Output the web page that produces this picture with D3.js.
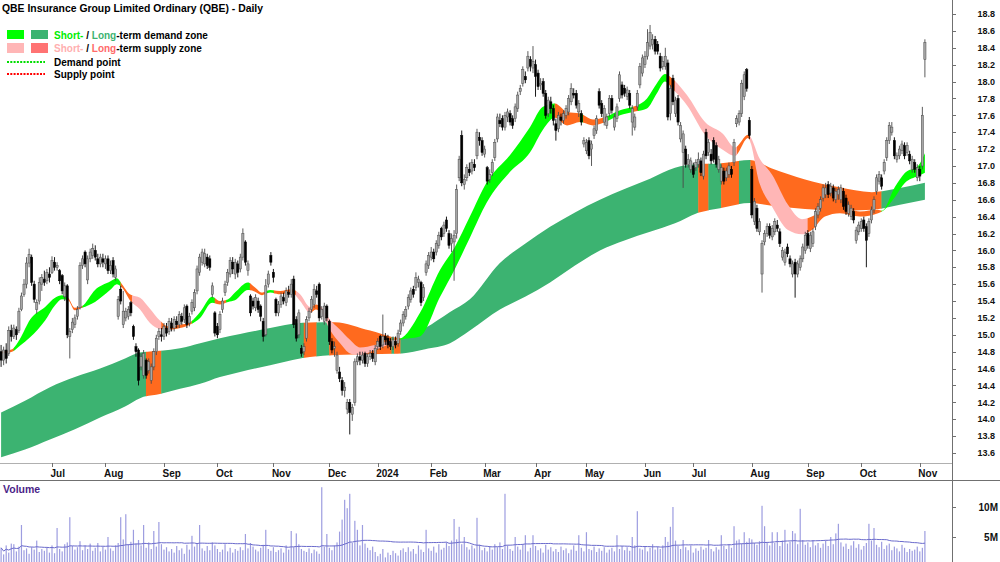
<!DOCTYPE html>
<html><head><meta charset="utf-8">
<script src="https://cdn.jsdelivr.net/npm/d3@7"></script>
<style>body{margin:0;background:#fff}svg{display:block}text{font-family:"Liberation Sans",Arial,sans-serif}</style>
</head><body><svg id="c" width="1000" height="562"></svg>
<script>
// ---------- DATA ----------
const opens=[
14.80,14.70,14.82,14.78,15.05,14.98,15.06,15.05,15.30,15.48,
15.60,15.85,15.92,15.60,15.30,15.40,15.60,15.66,15.64,15.72,
15.74,15.86,15.80,15.76,15.70,15.45,15.58,14.98,15.06,15.12,
15.22,15.32,15.82,15.98,15.65,15.90,15.94,16.00,15.90,15.84,
15.90,15.84,15.90,15.76,15.88,15.68,15.22,15.54,15.12,15.20,
15.22,15.38,15.10,14.86,14.82,14.62,14.52,14.70,14.58,14.46,
14.62,14.80,14.98,15.00,14.98,15.08,15.04,15.14,15.08,15.16,
15.12,15.22,15.18,15.34,15.14,15.28,15.32,15.52,15.74,15.86,
15.84,15.92,15.90,15.48,15.26,15.10,15.06,15.30,15.50,15.62,
15.72,15.86,15.72,15.84,15.78,15.92,16.10,15.76,15.46,15.40,
15.32,15.40,15.34,15.16,15.00,15.60,15.94,15.74,15.42,15.26,
15.36,15.44,15.38,15.50,15.48,15.66,15.18,15.00,14.84,14.80,
14.96,15.20,15.30,15.36,15.52,15.60,15.22,15.16,15.34,15.16,
14.92,14.84,14.58,14.56,14.46,14.34,14.12,14.20,14.06,14.20,
14.68,14.74,14.70,14.78,14.66,14.74,14.78,14.68,14.86,14.98,
14.88,14.98,14.96,14.92,14.86,14.92,14.90,15.04,15.14,15.22,
15.34,15.42,15.54,15.56,15.62,15.62,15.44,15.74,15.82,15.92,
15.98,15.98,16.06,16.26,16.20,16.36,16.20,16.08,16.10,16.20,
16.86,17.36,16.78,16.86,16.96,16.94,17.02,17.12,17.34,17.30,
17.14,16.98,16.84,16.92,17.10,17.32,17.54,17.56,17.46,17.58,
17.62,17.56,17.56,17.68,17.88,17.98,18.06,18.16,18.26,18.16,
18.20,18.10,17.96,18.00,17.86,17.62,17.76,17.68,17.50,17.44,
17.58,17.54,17.60,17.64,17.76,17.86,17.86,17.64,17.62,17.26,
17.18,17.30,17.20,17.36,17.42,17.88,17.74,17.52,17.48,17.62,
17.80,17.46,17.56,17.80,17.96,17.92,17.82,17.86,17.52,17.46,
17.70,17.96,18.10,18.20,18.30,18.42,18.44,18.50,18.44,18.30,
18.18,18.18,18.22,17.62,18.04,17.62,17.80,17.32,17.16,17.20,
17.02,16.96,17.00,16.98,17.02,17.06,16.88,17.40,17.16,17.14,
17.30,17.24,16.96,16.82,16.94,16.86,16.90,16.96,17.04,17.50,
17.52,17.62,17.82,18.14,17.54,16.96,16.34,16.50,16.22,15.72,
16.10,16.20,16.28,16.16,16.22,16.30,16.22,15.92,15.86,16.04,
15.90,15.72,15.86,15.72,15.80,15.90,16.00,16.20,16.02,16.08,
16.28,16.42,16.50,16.62,16.66,16.78,16.68,16.74,16.60,16.66,
16.60,16.70,16.62,16.44,16.40,16.46,16.12,16.22,16.26,16.36,
16.28,16.20,16.36,16.48,16.70,16.82,16.86,16.94,17.10,17.30,
17.40,17.30,17.08,17.12,17.18,17.24,17.16,17.14,16.96,17.04,
16.86,16.96,17.00,18.26];
const closes=[
14.70,14.82,14.72,15.05,14.98,15.08,15.00,15.28,15.46,15.60,
15.85,15.95,15.62,15.42,15.38,15.62,15.68,15.62,15.74,15.68,
15.88,15.80,15.82,15.64,15.52,15.58,15.00,15.04,15.15,15.20,
15.30,15.82,15.90,15.84,15.90,15.98,16.02,15.92,15.84,15.92,
15.86,15.90,15.76,15.82,15.72,15.78,15.42,15.40,15.28,15.28,
15.30,15.26,14.98,14.80,14.46,14.74,14.78,14.52,14.68,14.62,
14.80,14.96,15.04,14.98,15.10,15.02,15.16,15.08,15.18,15.12,
15.24,15.16,15.32,15.12,15.22,15.38,15.50,15.78,15.92,15.98,
15.96,15.82,15.80,15.58,15.02,15.00,15.24,15.40,15.60,15.74,
15.88,15.78,15.86,15.74,15.92,16.20,15.86,15.84,15.26,15.34,
15.44,15.30,15.22,14.98,15.58,15.72,15.86,15.68,15.26,15.36,
15.46,15.40,15.52,15.48,15.60,15.12,14.96,15.26,14.78,14.86,
15.18,15.28,15.42,15.54,15.48,15.20,15.30,15.34,15.20,14.92,
14.82,14.86,14.76,14.48,14.34,14.38,14.20,14.08,14.14,14.68,
14.74,14.70,14.76,14.66,14.74,14.78,14.72,14.84,14.92,14.86,
14.98,14.94,14.88,14.86,14.94,14.88,15.02,15.14,15.24,15.30,
15.44,15.52,15.48,15.68,15.66,15.38,15.56,15.84,15.94,15.98,
15.90,16.08,16.18,16.16,16.30,16.26,16.06,16.14,16.18,16.72,
17.08,16.80,16.84,16.98,16.92,17.04,16.98,17.40,17.30,17.16,
17.20,16.82,16.90,17.04,17.28,17.58,17.50,17.46,17.60,17.64,
17.52,17.48,17.70,17.84,17.92,18.14,18.02,18.30,18.18,18.24,
18.06,17.94,17.98,17.86,17.60,17.78,17.68,17.54,17.42,17.60,
17.54,17.62,17.68,17.80,17.92,17.84,17.72,17.74,17.52,17.30,
17.28,17.12,17.26,17.44,17.56,17.72,17.62,17.68,17.58,17.80,
17.66,17.58,17.70,18.08,17.84,17.86,17.90,17.72,17.68,17.58,
17.86,18.18,18.28,18.30,18.46,18.58,18.50,18.36,18.36,18.16,
18.24,18.30,17.58,17.92,17.76,17.78,17.52,17.48,17.38,17.02,
17.08,17.06,16.90,17.04,17.08,16.92,17.14,17.12,17.28,17.06,
17.08,17.02,17.08,16.98,16.82,16.94,17.00,16.90,17.28,17.56,
17.62,17.98,18.08,17.92,17.36,16.42,16.58,16.26,16.34,16.08,
16.20,16.28,16.18,16.26,16.34,16.26,16.08,16.00,15.98,15.96,
15.84,15.84,15.72,15.84,15.90,16.04,16.18,16.06,16.18,16.22,
16.46,16.52,16.60,16.74,16.74,16.66,16.76,16.62,16.70,16.72,
16.74,16.52,16.46,16.54,16.50,16.36,16.24,16.30,16.34,16.26,
16.12,16.34,16.48,16.60,16.86,16.90,16.76,17.04,17.30,17.48,
17.46,17.12,17.12,17.20,17.26,17.12,17.24,17.06,17.08,16.96,
16.98,16.88,17.60,18.46];
const highs=[
14.88,14.86,14.90,15.10,15.12,15.12,15.10,15.32,15.50,15.66,
15.92,16.02,15.95,15.64,15.42,15.68,15.72,15.76,15.78,15.80,
15.93,15.92,15.86,15.78,15.72,15.62,15.60,15.08,15.20,15.24,
15.34,15.86,15.94,16.00,15.94,16.02,16.08,16.06,15.96,15.96,
15.96,15.94,15.94,15.88,15.92,15.82,15.46,15.58,15.52,15.32,
15.34,15.40,15.12,14.90,14.84,14.78,14.82,14.72,14.72,14.66,
14.84,15.00,15.08,15.08,15.14,15.14,15.20,15.20,15.22,15.22,
15.28,15.26,15.36,15.36,15.26,15.42,15.54,15.82,15.96,16.02,
16.02,15.96,15.94,15.62,15.28,15.14,15.28,15.44,15.64,15.78,
15.92,15.92,15.90,15.88,15.96,16.26,16.12,15.88,15.48,15.44,
15.48,15.44,15.36,15.20,15.66,15.76,15.98,15.78,15.44,15.40,
15.50,15.50,15.56,15.58,15.66,15.70,15.22,15.30,14.88,14.90,
15.22,15.32,15.46,15.60,15.58,15.62,15.34,15.38,15.36,15.18,
14.96,14.92,14.80,14.62,14.50,14.44,14.24,14.24,14.18,14.72,
14.78,14.80,14.80,14.80,14.78,14.82,14.82,14.88,14.96,15.00,
15.24,15.02,15.00,14.96,14.98,14.98,15.06,15.18,15.28,15.34,
15.48,15.56,15.58,15.74,15.70,15.64,15.60,15.88,15.98,16.04,
16.02,16.12,16.22,16.28,16.34,16.40,16.24,16.20,16.24,16.78,
17.12,17.42,16.90,17.02,17.04,17.08,17.08,17.44,17.40,17.34,
17.24,17.00,16.96,17.08,17.32,17.62,17.62,17.60,17.64,17.68,
17.66,17.60,17.74,17.88,17.96,18.18,18.12,18.36,18.30,18.42,
18.26,18.14,18.04,18.04,17.90,17.82,17.82,17.72,17.56,17.64,
17.62,17.66,17.72,17.84,17.98,17.92,17.90,17.78,17.66,17.34,
17.32,17.34,17.30,17.48,17.60,17.92,17.78,17.72,17.62,17.84,
17.84,17.62,17.74,18.12,18.00,17.96,17.94,17.90,17.72,17.62,
17.90,18.22,18.32,18.36,18.62,18.67,18.56,18.54,18.48,18.34,
18.30,18.40,18.26,17.96,18.08,17.82,17.84,17.52,17.42,17.24,
17.14,17.10,17.04,17.08,17.16,17.10,17.18,17.44,17.32,17.20,
17.34,17.28,17.12,17.02,16.98,16.98,17.04,17.00,17.32,17.60,
17.66,18.02,18.12,18.16,17.58,17.00,16.62,16.54,16.38,16.12,
16.24,16.32,16.32,16.30,16.38,16.36,16.26,16.04,16.02,16.08,
15.94,15.88,15.90,15.88,15.94,16.08,16.22,16.24,16.22,16.26,
16.50,16.56,16.64,16.78,16.80,16.82,16.80,16.78,16.74,16.76,
16.78,16.74,16.66,16.58,16.54,16.50,16.28,16.34,16.38,16.40,
16.32,16.38,16.52,16.64,16.90,16.94,16.90,17.08,17.34,17.52,
17.52,17.34,17.16,17.24,17.30,17.28,17.28,17.18,17.12,17.08,
17.02,17.00,17.70,18.50];
const lows=[
14.62,14.64,14.66,14.75,14.92,14.95,14.94,15.02,15.28,15.45,
15.55,15.80,15.58,15.38,15.25,15.36,15.52,15.58,15.60,15.62,
15.72,15.76,15.76,15.60,15.48,15.40,14.96,14.72,15.02,15.08,
15.18,15.30,15.78,15.80,15.60,15.86,15.90,15.88,15.80,15.80,
15.80,15.78,15.72,15.72,15.68,15.64,15.18,15.36,15.08,15.16,
15.18,15.22,14.94,14.74,14.40,14.58,14.48,14.48,14.54,14.42,
14.58,14.76,14.94,14.92,14.94,14.98,15.00,15.04,15.04,15.08,
15.08,15.12,15.14,15.08,15.10,15.24,15.28,15.48,15.70,15.82,
15.80,15.78,15.76,15.44,14.98,14.96,15.02,15.26,15.46,15.58,
15.68,15.72,15.66,15.68,15.74,15.88,15.82,15.70,15.22,15.30,
15.28,15.26,15.16,14.92,14.98,15.56,15.82,15.62,15.22,15.22,
15.32,15.36,15.34,15.44,15.44,15.08,14.92,14.96,14.74,14.76,
14.92,15.16,15.26,15.32,15.44,15.16,15.18,15.12,15.16,14.88,
14.78,14.74,14.54,14.44,14.28,14.26,14.06,13.82,13.98,14.16,
14.64,14.64,14.66,14.62,14.62,14.70,14.68,14.64,14.82,14.82,
14.84,14.88,14.84,14.82,14.82,14.84,14.86,15.00,15.10,15.18,
15.30,15.38,15.44,15.52,15.56,15.34,15.40,15.70,15.78,15.88,
15.86,15.94,16.02,16.12,16.16,16.22,16.02,15.98,15.64,16.14,
16.82,16.76,16.72,16.82,16.88,16.90,16.94,17.08,17.24,17.12,
17.10,16.78,16.80,16.88,17.06,17.28,17.46,17.42,17.42,17.52,
17.48,17.44,17.52,17.64,17.84,17.94,17.98,18.12,18.12,18.10,
17.82,17.90,17.90,17.82,17.56,17.58,17.62,17.48,17.30,17.40,
17.48,17.50,17.56,17.60,17.72,17.80,17.68,17.58,17.48,17.22,
17.14,17.08,17.00,17.32,17.38,17.68,17.58,17.48,17.44,17.58,
17.62,17.42,17.52,17.76,17.80,17.82,17.78,17.68,17.36,17.42,
17.66,17.92,18.06,18.16,18.26,18.38,18.38,18.32,18.32,18.12,
18.14,18.14,17.54,17.54,17.72,17.58,17.48,17.28,16.74,16.98,
16.98,16.92,16.86,16.94,16.98,16.88,16.84,17.08,17.12,17.02,
17.04,16.98,16.92,16.78,16.78,16.82,16.86,16.86,17.00,17.46,
17.48,17.58,17.78,17.88,17.32,16.38,16.30,16.22,16.18,15.50,
16.06,16.16,16.14,16.12,16.18,16.22,16.04,15.88,15.82,15.92,
15.80,15.68,15.44,15.68,15.76,15.86,15.96,16.02,15.98,16.04,
16.24,16.38,16.46,16.58,16.62,16.62,16.64,16.58,16.56,16.60,
16.56,16.48,16.42,16.40,16.36,16.32,16.08,16.18,16.22,16.22,
15.80,16.16,16.32,16.44,16.66,16.78,16.72,16.90,17.06,17.26,
17.36,17.08,17.04,17.08,17.14,17.08,17.12,17.02,16.92,16.92,
16.82,16.82,16.96,18.05];
// volume in millions
const volumes=[
3.2,2.1,3.6,2.4,3.9,3.8,2.6,3.4,7.0,2.8,3.1,2.2,3.3,2.9,4.4,2.5,3.0,2.7,3.2,2.4,
3.6,2.3,6.5,3.0,2.6,3.8,4.1,8.3,3.5,2.9,3.3,4.3,2.8,3.6,3.0,3.9,2.7,3.2,4.0,2.6,
3.4,2.9,5.0,3.1,2.7,3.6,4.0,8.3,4.6,8.8,3.8,4.2,6.2,3.9,4.5,3.6,7.0,3.2,4.1,3.0,
6.0,3.4,7.5,3.8,2.9,3.3,2.6,3.0,2.4,3.5,2.8,3.1,2.2,3.7,2.9,5.2,3.4,3.9,7.0,3.1,
2.7,3.5,2.8,4.1,3.6,3.0,2.5,2.9,3.8,2.6,3.2,2.4,3.0,2.7,3.3,2.8,5.5,3.1,4.0,3.4,
2.9,2.6,3.2,3.7,6.2,3.0,2.7,3.3,2.5,2.8,3.1,2.4,3.6,2.9,6.0,3.3,5.6,3.8,3.0,2.7,
2.5,3.1,2.3,2.9,2.6,2.2,13.3,3.4,5.5,3.2,2.8,3.6,4.1,5.9,7.9,11.2,9.8,12.2,4.0,7.7,
6.2,3.6,7.0,3.9,3.2,2.8,3.4,2.5,1.8,2.2,3.0,1.6,2.4,2.0,2.7,2.3,1.9,2.8,3.1,2.5,
3.3,2.6,3.0,2.2,3.6,2.9,2.5,6.2,3.1,2.7,3.4,2.4,3.8,2.9,3.2,4.1,3.5,4.4,8.0,4.6,
6.7,3.8,5.0,3.3,2.9,3.6,3.1,8.2,3.7,2.8,3.2,2.6,3.5,2.9,3.8,3.3,4.1,3.0,12.2,3.6,
3.0,2.7,5.0,3.4,2.9,3.8,5.3,2.6,3.2,5.3,3.5,2.8,3.1,2.4,3.7,2.9,3.3,2.6,3.0,2.5,
3.4,2.8,3.1,2.3,2.9,3.6,2.7,5.3,3.2,2.6,5.8,3.0,2.8,3.4,2.5,3.1,2.7,3.3,2.4,2.9,
3.2,2.6,5.3,3.0,3.5,2.8,3.3,2.7,5.0,3.6,9.3,3.1,2.9,3.5,2.6,3.2,3.8,2.9,3.4,3.0,
3.6,5.0,4.2,6.7,10.0,4.4,3.5,3.0,4.5,3.3,2.8,3.6,2.4,3.1,2.7,3.4,2.9,3.2,4.5,3.0,
2.6,3.3,2.9,5.3,3.5,3.0,3.8,3.2,6.8,4.4,4.6,3.9,5.8,4.2,4.8,4.6,4.0,3.7,4.3,10.2,
6.8,4.1,3.6,5.8,4.0,5.8,3.5,4.4,6.2,3.9,4.2,6.0,5.6,3.8,9.7,4.5,3.7,4.1,3.3,4.5,
3.6,4.0,3.2,3.9,4.4,3.5,5.0,3.8,5.6,7.2,4.1,3.4,3.9,3.0,3.6,4.3,3.2,3.8,2.9,3.5,
4.0,7.2,4.4,6.5,3.7,3.3,4.2,3.0,3.6,3.9,2.8,3.4,3.1,2.6,3.7,3.2,2.5,3.0,2.7,2.9,
3.4,2.6,3.2,6.0];

// short-term zone edges (sampled at trading-day index)
const stIdx=[0,4.3,7.4,11.4,17.3,21.2,23.9,26.3,29,31.8,36.9,42.8,45.5,47.5,50.6,54.6,58.5,62.4,65.6,70.3,74.2,78.2,82.9,86,89.2,91.9,97,99.8,102.5,105.7,109.6,114.3,117.5,121.4,123.7,126.1,129.2,133.2,137.1,141,146.9,152.8,156.7,164.6,172.5,178.3,184.2,190.9,200,207.8,212.9,217.6,222.4,227.5,232.6,237.3,243.2,248.3,253.8,257.7,260.9,263.6,269.5,276.6,283.7,288.4,293.5,298.2,302.9,309.2,314.7,318.6,323.7,329.6,337.5,344.6,346.1,351.2,355.2,360.3,363];
const stTop=[14.80,14.83,14.95,15.18,15.33,15.44,15.47,15.44,15.32,15.34,15.53,15.63,15.67,15.60,15.48,15.44,15.31,15.17,15.10,15.12,15.15,15.27,15.45,15.40,15.42,15.50,15.62,15.56,15.50,15.53,15.52,15.54,15.48,15.33,15.36,15.32,15.18,15.06,14.94,14.85,14.88,14.93,14.95,15.26,15.77,16.04,16.40,16.81,17.13,17.46,17.70,17.74,17.64,17.62,17.55,17.58,17.66,17.70,17.80,17.98,18.09,18.04,17.84,17.52,17.38,17.22,17.37,17.08,16.90,16.54,16.37,16.40,16.50,16.51,16.46,16.48,16.47,16.75,16.92,17.00,17.15];
const stBot=[14.78,14.80,14.87,14.97,15.17,15.35,15.42,15.41,15.29,15.32,15.39,15.53,15.60,15.56,15.41,15.30,15.14,15.07,15.06,15.08,15.12,15.20,15.38,15.36,15.39,15.41,15.53,15.51,15.47,15.50,15.48,15.50,15.40,15.26,15.30,15.24,15.06,14.90,14.78,14.76,14.82,14.89,14.94,14.98,15.45,15.78,16.15,16.57,16.93,17.16,17.43,17.57,17.48,17.52,17.48,17.52,17.60,17.64,17.68,17.86,18.00,17.92,17.72,17.37,17.19,17.12,17.33,16.78,16.52,16.24,16.19,16.24,16.40,16.44,16.40,16.44,16.46,16.63,16.80,16.88,16.92];
// colour state of the short-term zone: [from index, to index, state]
const stSegs=[[0,5,"s2"],[5,26,"d1"],[26,32,"s2"],[32,47,"d1"],[47,51.5,"s2"],[51.5,63,"s1"],[63,75,"s2"],[75,84,"d1"],[84,88.5,"s2"],[88.5,97.8,"d1"],[97.8,104,"s2"],[104,107.2,"d1"],[107.2,115.9,"s2"],[115.9,121.8,"s1"],[121.8,125.3,"s2"],[125.3,155.6,"s1"],[155.6,217.6,"d1"],[217.6,227.5,"s2"],[227.5,228.7,"d1"],[228.7,238,"s2"],[238,248.3,"d1"],[248.3,250.3,"s2"],[250.3,261.7,"d1"],[261.7,264.8,"s2"],[264.8,289.2,"s1"],[289.2,294.3,"s2"],[294.3,317,"s1"],[317,346,"s2"],[346,363.5,"d1"]];

// long-term zone edges
const ltIdx=[0,9.4,19.2,29,38.9,48.7,54.6,62.4,70.3,78.2,86,93.9,105.7,117.5,131.2,145,157.5,166.6,176.4,184.2,196,205.9,215.7,225.5,235.3,245.2,255,264.8,273.4,282.5,294.3,302.9,315.9,328.9,342.2,353.2,363];
const ltTop=[14.08,14.22,14.38,14.50,14.60,14.72,14.79,14.81,14.84,14.90,14.96,15.01,15.08,15.14,15.15,15.05,14.96,15.08,15.27,15.42,15.85,16.08,16.28,16.45,16.60,16.73,16.85,16.98,17.02,17.03,17.07,16.97,16.84,16.75,16.69,16.74,16.80];
const ltBot=[13.55,13.64,13.76,13.88,14.02,14.15,14.25,14.30,14.36,14.42,14.50,14.56,14.64,14.72,14.76,14.77,14.78,14.83,14.90,15.05,15.30,15.45,15.62,15.82,16.00,16.12,16.22,16.32,16.44,16.50,16.56,16.53,16.49,16.47,16.48,16.54,16.60];
const ltSegs=[[-0.5,57,"d2"],[57,63,"s2"],[63,119,"d2"],[119,124,"s2"],[124,129,"d2"],[129,153.5,"s2"],[153.5,154.5,"d2"],[154.5,157,"s2"],[157,274,"d2"],[274,278,"s2"],[278,283,"d2"],[283,290,"s2"],[290,294.5,"d2"],[294.5,346,"s2"],[346,363.5,"d2"]];

const priceTicks=[13.6,13.8,14.0,14.2,14.4,14.6,14.8,15.0,15.2,15.4,15.6,15.8,16.0,16.2,16.4,16.6,16.8,17.0,17.2,17.4,17.6,17.8,18.0,18.2,18.4,18.6,18.8];
const volTicks=[5,10];
const volTickLabels=["5M","10M"];
const holidays=["2023-06-12","2023-12-25","2023-12-26","2024-01-01","2024-01-26","2024-03-29","2024-04-01","2024-04-25","2024-06-10"];

// ---------- CHART ----------
const colors={d1:"#00ff00",d2:"#3cb371",s1:"#ffb6b6",s2:"#ff6a1e"};
const N=closes.length;
const fmt=d3.timeFormat("%Y-%m-%d");
const dates=[];
for(let d=new Date(2023,5,2);dates.length<N;d=d3.timeDay.offset(d,1)){
  const wd=d.getDay();
  if(wd===0||wd===6||holidays.includes(fmt(d)))continue;
  dates.push(new Date(d));
}
const svg=d3.select("#c");
const defs=svg.append("defs");
const x=d3.scaleLinear().domain([0,363]).range([1.1,924.9]);
const y=d3.scaleLinear().domain([13.6,18.8]).range([453,14]);
const yv=d3.scaleLinear().domain([0,10]).range([567,507]);

defs.append("clipPath").attr("id","pricePanel").append("rect").attr("x",0).attr("y",0).attr("width",951).attr("height",463);
const gP=svg.append("g").attr("clip-path","url(#pricePanel)");

function band(idx,top,bot,segs,id){
  const area=d3.area().x(d=>x(d)).y0((d,k)=>y(bot[k])).y1((d,k)=>y(top[k])).curve(d3.curveMonotoneX);
  const dPath=area(idx);
  segs.forEach((s,j)=>{
    const cid=id+j;
    defs.append("clipPath").attr("id",cid).append("rect")
      .attr("x",x(s[0])-0.2).attr("width",x(s[1])-x(s[0])+0.4).attr("y",0).attr("height",470);
    gP.append("path").attr("d",dPath).attr("fill",colors[s[2]]).attr("clip-path",`url(#${cid})`);
  });
}
band(ltIdx,ltTop,ltBot,ltSegs,"lt");
band(stIdx,stTop,stBot,stSegs,"st");

// candles
const cg=gP.append("g");
d3.range(N).forEach(i=>{
  const o=opens[i],c=closes[i],up=c>=o;
  const cx=x(i);
  cg.append("line").attr("x1",cx).attr("x2",cx).attr("y1",y(highs[i])).attr("y2",y(lows[i]))
    .attr("stroke",up?"#4a4a4a":"#000").attr("stroke-width",0.9);
  const yt=y(Math.max(o,c)),yb=y(Math.min(o,c));
  cg.append("rect").attr("x",cx-1.1).attr("width",2.2).attr("y",yt).attr("height",Math.max(0.8,yb-yt))
    .attr("fill",up?"#a6a6a6":"#000").attr("stroke",up?"#4a4a4a":"#000").attr("stroke-width",0.5);
});

// axes / frame
svg.append("line").attr("x1",0).attr("x2",952).attr("y1",463.5).attr("y2",463.5).attr("stroke","#b0b0b0");
svg.append("line").attr("x1",0).attr("x2",1000).attr("y1",480.5).attr("y2",480.5).attr("stroke","#707070");
svg.append("line").attr("x1",952.5).attr("x2",952.5).attr("y1",0).attr("y2",562).attr("stroke","#707070");
priceTicks.forEach(v=>{
  svg.append("line").attr("x1",952).attr("x2",956).attr("y1",Math.round(y(v))+0.5).attr("y2",Math.round(y(v))+0.5).attr("stroke","#707070");
  svg.append("text").attr("x",995).attr("y",y(v)+3.2).attr("text-anchor","end")
    .attr("font-size",9).attr("font-weight","bold").attr("fill","#111").text(v.toFixed(1));
});
const mfmt=d3.timeFormat("%b");
d3.range(1,N).forEach(i=>{
  if(dates[i].getMonth()!==dates[i-1].getMonth()){
    const mx=Math.round(x(i))+0.5;
    svg.append("line").attr("x1",mx).attr("x2",mx).attr("y1",463).attr("y2",467).attr("stroke","#707070");
    const lab=dates[i].getMonth()===0?String(dates[i].getFullYear()):mfmt(dates[i]);
    svg.append("text").attr("x",x(i)-1.5).attr("y",477).attr("font-size",10).attr("font-weight","bold")
      .attr("fill","#111").text(lab);
  }
});

// volume
const gV=svg.append("g");
volumes.forEach((v,i)=>{
  gV.append("rect").attr("x",x(i)-0.6).attr("width",1.2).attr("y",yv(v)).attr("height",562-yv(v)).attr("fill","#9d9de0");
});
const ma=volumes.map((v,i)=>d3.mean(volumes.slice(Math.max(0,i-49),i+1)));
gV.append("path").attr("d",d3.line().x((d,i)=>x(i)).y(d=>yv(d))(ma)).attr("fill","none").attr("stroke","#6a6acc").attr("stroke-width",1);
volTicks.forEach((v,k)=>{
  svg.append("line").attr("x1",952).attr("x2",956).attr("y1",Math.round(yv(v))+0.5).attr("y2",Math.round(yv(v))+0.5).attr("stroke","#707070");
  svg.append("text").attr("x",998).attr("y",yv(v)+3.5).attr("text-anchor","end")
    .attr("font-size",10).attr("font-weight","bold").attr("fill","#111").text(volTickLabels[k]);
});
svg.append("text").attr("x",3).attr("y",493).attr("font-size",10.5).attr("font-weight","bold").attr("fill","#4b1f88").text("Volume");

// title + legend
svg.append("text").attr("x",2).attr("y",12).attr("font-size",10.4).attr("font-weight","bold").attr("fill","#000")
  .text("QBE Insurance Group Limited Ordinary (QBE) - Daily");
const lg=svg.append("g").attr("font-size",10).attr("font-weight","bold");
lg.append("rect").attr("x",7).attr("y",30).attr("width",17).attr("height",9).attr("fill","#00ff00");
lg.append("rect").attr("x",31).attr("y",30).attr("width",17).attr("height",9).attr("fill","#3cb371");
lg.append("rect").attr("x",7).attr("y",43).attr("width",17).attr("height",10).attr("fill","#ffb6b6");
lg.append("rect").attr("x",31).attr("y",43).attr("width",17).attr("height",10).attr("fill","#ff7373");
const t1=lg.append("text").attr("x",54).attr("y",39);
t1.append("tspan").attr("fill","#00ee00").text("Short-");
t1.append("tspan").attr("fill","#000").text(" / ");
t1.append("tspan").attr("fill","#3cb371").text("Long");
t1.append("tspan").attr("fill","#000").text("-term demand zone");
const t2=lg.append("text").attr("x",54).attr("y",52);
t2.append("tspan").attr("fill","#ffb0b0").text("Short-");
t2.append("tspan").attr("fill","#000").text(" / ");
t2.append("tspan").attr("fill","#ff6a6a").text("Long");
t2.append("tspan").attr("fill","#000").text("-term supply zone");
lg.append("line").attr("x1",7).attr("x2",45).attr("y1",62).attr("y2",62).attr("stroke","#00dd00").attr("stroke-width",2).attr("stroke-dasharray","2,1.3");
lg.append("line").attr("x1",7).attr("x2",45).attr("y1",74).attr("y2",74).attr("stroke","#ff0000").attr("stroke-width",2).attr("stroke-dasharray","2,1.3");
lg.append("text").attr("x",54).attr("y",66).attr("fill","#000").text("Demand point");
lg.append("text").attr("x",54).attr("y",78).attr("fill","#000").text("Supply point");
</script></body></html>
